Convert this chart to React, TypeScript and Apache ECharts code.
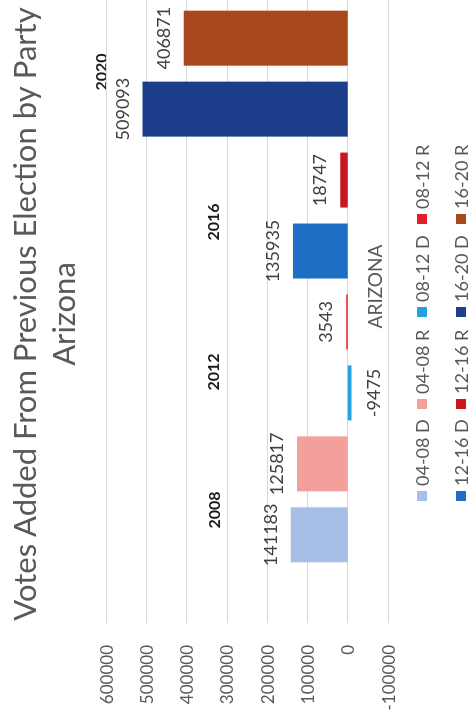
import React, { useEffect, useRef } from "react";
import * as echarts from "echarts";

// ---- data ----
const categories = ["ARIZONA"];
const seriesNames = ["04-08 D", "04-08 R", "08-12 D", "08-12 R", "12-16 D", "12-16 R", "16-20 D", "16-20 R"];
const seriesValues = [141183, 125817, -9475, 3543, 135935, 18747, 509093, 406871];
const yearLabels = ["2008", "2012", "2016", "2020"];
const valueMin = -100000;
const valueMax = 600000;
const valueStep = 100000;

// ---- styles ----
const seriesColors = ["#a7bee6", "#f3a09d", "#22a3dc", "#e31e24", "#1d6fc4", "#c8171e", "#1d3e8a", "#a9481c"];
const FONT = "Lato, 'Open Sans', sans-serif";
const GREY = "#595959";

export default function App() {
  const ref = useRef<HTMLDivElement>(null);

  useEffect(() => {
    if (!ref.current) return;
    const chart = echarts.init(ref.current, undefined, { renderer: "svg" });

    // positions of the bold year text boxes (unrotated chart coords)
    const yearPos = [
      [211, 213],
      [349, 212],
      [499, 212],
      [649, 100],
    ];
    // legend item positions (unrotated chart coords)
    const legendLeft = [220, 312, 404, 497];
    const legendTop = [413, 452];

    const option: any = {
      animation: false,
      backgroundColor: "#ffffff",
      textStyle: { fontFamily: FONT },
      title: {
        text: "Votes Added From Previous Election by Party\nArizona",
        left: 402,
        top: -1,
        textAlign: "center",
        textStyle: {
          fontFamily: FONT,
          fontSize: 31,
          fontWeight: "normal",
          color: GREY,
          lineHeight: 39,
        },
      },
      legend: seriesNames.map((name, i) => ({
        data: [name],
        left: legendLeft[i % 4],
        top: legendTop[Math.floor(i / 4)],
        padding: 0,
        itemWidth: 10,
        itemHeight: 10,
        itemGap: 0,
        icon: "rect",
        textStyle: { fontFamily: FONT, fontSize: 18, color: GREY },
      })),
      grid: { left: 98, right: 9, top: 106, bottom: 86, containLabel: false },
      xAxis: {
        type: "category",
        data: categories,
        position: "bottom",
        axisLine: { show: false, onZero: false },
        axisTick: { show: false },
        axisLabel: { color: GREY, fontSize: 19, fontFamily: FONT, margin: -23 },
      },
      yAxis: {
        type: "value",
        min: valueMin,
        max: valueMax,
        interval: valueStep,
        axisLine: { show: false },
        axisTick: { show: false },
        splitLine: { lineStyle: { color: "#d9d9d9", width: 1 } },
        axisLabel: {
          color: GREY,
          fontSize: 17,
          fontFamily: FONT,
          margin: 22,
          formatter: (v: number) => String(v),
        },
      },
      graphic: yearLabels.map((t, i) => ({
        type: "text",
        x: yearPos[i][0],
        y: yearPos[i][1],
        style: {
          text: t,
          fontFamily: FONT,
          fontSize: 16,
          fontWeight: "bold",
          fill: "#1a1a1a",
          align: "center",
          verticalAlign: "middle",
        },
      })),
      series: seriesNames.map((name, i) => ({
        name,
        type: "bar",
        barWidth: 55,
        barGap: "29%",
        itemStyle: { color: seriesColors[i] },
        label: {
          show: true,
          position: seriesValues[i] < 0 ? "bottom" : "top",
          distance: 12,
          fontFamily: FONT,
          fontSize: 18,
          color: "#404040",
        },
        data: [seriesValues[i]],
      })),
    };

    chart.setOption(option);
    return () => chart.dispose();
  }, []);

  return (
    <div
      style={{
        position: "fixed",
        left: 0,
        top: 0,
        width: 721,
        height: 474,
        overflow: "hidden",
        transformOrigin: "0 0",
        transform: "translate(0px, 721px) rotate(-90deg)",
        background: "#fff",
      }}
    >
      <div ref={ref} style={{ width: 780, height: 474 }} />
    </div>
  );
}
